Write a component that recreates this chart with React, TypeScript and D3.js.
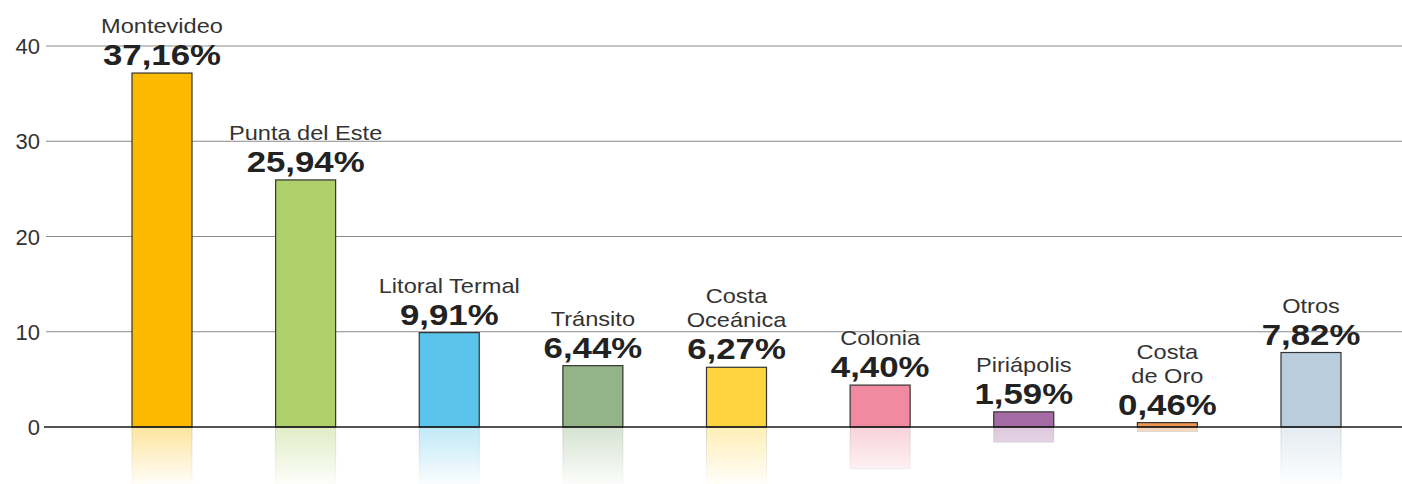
import React from "react";
import * as d3 from "d3";

const categories: string[][] = [
  ["Montevideo"],
  ["Punta del Este"],
  ["Litoral Termal"],
  ["Tránsito"],
  ["Costa", "Oceánica"],
  ["Colonia"],
  ["Piriápolis"],
  ["Costa", "de Oro"],
  ["Otros"],
];
const values: number[] = [37.16, 25.94, 9.91, 6.44, 6.27, 4.4, 1.59, 0.46, 7.82];
const colors: string[] = [
  "#FBBA00",
  "#AFCF6A",
  "#5BC4EC",
  "#93B486",
  "#FFD43F",
  "#EF8AA0",
  "#A56BA4",
  "#F0954F",
  "#BACDDD",
];
const yTicks: number[] = [0, 10, 20, 30, 40];

const W = 1402;
const H = 484;

export default function App() {
  const keys = categories.map((c) => c.join(" "));
  const x = d3.scalePoint<string>().domain(keys).range([162, 1311]);
  const y = d3.scaleLinear().domain([0, 40]).range([427, 46]);
  const barW = 60;
  const fmt = (v: number) => v.toFixed(2).replace(".", ",") + "%";

  return (
    <svg
      width={W}
      height={H}
      style={{ position: "absolute", left: 0, top: 0, background: "#fff" }}
    >
      <defs>
        {values.map((v, i) => (
          <linearGradient
            key={i}
            id={`refl${i}`}
            gradientUnits="userSpaceOnUse"
            x1={0}
            x2={0}
            y1={y(0)}
            y2={y(0) + 62}
          >
            <stop offset="0" stopColor={colors[i]} stopOpacity={0.38} />
            <stop offset="1" stopColor={colors[i]} stopOpacity={0} />
          </linearGradient>
        ))}
        <linearGradient
          id="reflEdge"
          gradientUnits="userSpaceOnUse"
          x1={0}
          x2={0}
          y1={y(0)}
          y2={y(0) + 62}
        >
          <stop offset="0" stopColor="#999" stopOpacity={0.35} />
          <stop offset="1" stopColor="#999" stopOpacity={0} />
        </linearGradient>
      </defs>

      {/* gridlines */}
      {yTicks
        .filter((t) => t !== 0)
        .map((t) => (
          <line
            key={t}
            x1={46}
            x2={W}
            y1={y(t)}
            y2={y(t)}
            stroke="#8a8a8a"
            strokeWidth={1.2}
          />
        ))}

      {/* y tick labels */}
      {yTicks.map((t) => (
        <text
          key={t}
          x={40}
          y={y(t) + 8}
          textAnchor="end"
          fontFamily="'Liberation Sans Narrow', 'Liberation Sans', Arial, sans-serif"
          fontSize={22}
          fill="#333"
        >
          {t}
        </text>
      ))}

      {/* reflections */}
      {values.map((v, i) => {
        const cx = x(keys[i])!;
        const h = y(0) - y(v);
        return (
          <rect
            key={`r${i}`}
            x={cx - barW / 2}
            y={y(0)}
            width={barW}
            height={h}
            fill={`url(#refl${i})`}
            stroke="url(#reflEdge)"
            strokeWidth={1}
          />
        );
      })}

      {/* bars */}
      {values.map((v, i) => {
        const cx = x(keys[i])!;
        return (
          <rect
            key={`b${i}`}
            x={cx - barW / 2}
            y={y(v)}
            width={barW}
            height={y(0) - y(v)}
            fill={colors[i]}
            stroke="#333"
            strokeWidth={1.2}
          />
        );
      })}

      {/* zero line */}
      <line x1={44} x2={W} y1={y(0)} y2={y(0)} stroke="#1a1a1a" strokeWidth={1.6} />

      {/* labels */}
      {values.map((v, i) => {
        const cx = x(keys[i])!;
        const valBase = y(v) - 8;
        const lines = categories[i];
        const nameBase = valBase - 32;
        return (
          <g key={`l${i}`}>
            <text
              transform={`translate(${cx},${valBase}) scale(1.2,1)`}
              textAnchor="middle"
              fontFamily="'Liberation Sans', Arial, sans-serif"
              fontWeight="bold"
              fontSize={29}
              fill="#222"
            >
              {fmt(v)}
            </text>
            {lines.map((ln, j) => (
              <text
                key={j}
                transform={`translate(${cx},${nameBase - (lines.length - 1 - j) * 24}) scale(1.15,1)`}
                textAnchor="middle"
                fontFamily="'Liberation Sans', Arial, sans-serif"
                fontSize={20.5}
                fill="#333"
              >
                {ln}
              </text>
            ))}
          </g>
        );
      })}
    </svg>
  );
}
